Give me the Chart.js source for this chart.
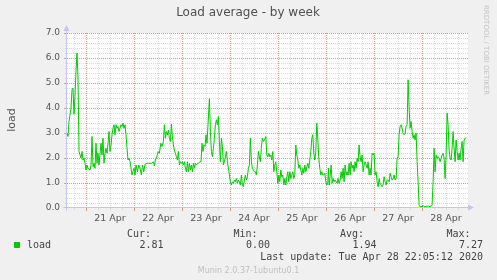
<!DOCTYPE html>
<html><head><meta charset="utf-8">
<script src="https://cdn.jsdelivr.net/npm/chart.js@4/dist/chart.umd.min.js"></script>
<style>
html,body{margin:0;padding:0;background:#f0f0f0;}
canvas{display:block;}
</style></head><body>
<canvas id="c" width="497" height="280"></canvas>
<script>
// hours relative to 21 Apr 00:00
const hours = [
-9.5,-9,-8.5,-7.5,-7,-6.5,-6,-5.5,-5,-4.5,-4,-3.5,-2.5,-2,-1.5,-1,-0.5,0,0.5,1,2,2.5,3,3.5,4,4.5,5,5.5,6,6.5,7.5,8,8.5,9,9.5,10,10.5,11,11.5,12,12.5,13,13.5,14,14.5,15,15.5,16,16.5,17,17.5,18,18.5,19,19.5,20,20.5,21,21.5,22,22.5,23,23.5,24,
24.5,25,25.7,26.4,27,27.7,28.2,28.9,29.5,30.4,31.2,32,32.9,33.7,34.2,34.7,35.4,36,36.7,37.4,38,38.7,39.2,39.7,40.2,40.7,41.2,41.7,42.2,42.7,43.2,43.7,44.2,44.7,45.2,45.7,46.2,46.7,47.2,47.7,48.2,48.7,49.2,49.7,50.2,50.7,51.2,51.7,52.2,52.7,53.2,53.7,54.2,54.7,55.2,55.7,56.2,56.9,
57.5,58,58.5,59,59.5,60,60.5,61,61.7,62.2,62.7,63.2,63.7,64.2,64.7,65.2,65.7,66.2,66.7,67.2,67.7,68.2,68.7,69.2,69.7,70.2,70.7,71.2,71.7,72.2,72.7,73.2,73.7,74.2,74.7,75.2,75.7,76.2,76.7,77.2,77.7,78.2,78.7,79.2,79.7,80.2,80.7,81.2,81.7,82.2,82.7,83.2,83.7,84.2,84.7,85.2,85.7,86.2,86.7,87.2,87.7,88.2,88.7,89.2,89.9,
90.4,90.9,91.4,91.9,92.4,92.9,93.4,93.9,94.4,94.9,95.4,95.9,96.4,96.9,97.4,97.9,98.4,98.9,99.4,99.9,100.4,100.9,101.4,101.9,102.4,102.9,103.4,103.9,104.4,104.9,105.4,105.9,106.4,106.9,107.4,107.9,108.4,108.9,109.4,109.9,110.4,110.9,111.4,111.9,112.4,112.9,113.4,113.9,114.4,114.9,115.4,115.9,116.4,116.9,117.4,117.9,118.4,118.9,119.4,119.9,120.4,120.9,121.2,121.6,122.1,122.6,
123.05,123.55,124.05,124.55,125.05,125.55,126.05,126.55,127.05,127.55,128.05,128.55,129.05,129.55,130.05,130.55,131.05,131.55,132.05,132.55,133.05,133.55,134.05,134.55,135.05,135.55,136.05,136.55,137.05,137.55,138.05,138.55,139.05,139.55,140.05,140.55,141.05,141.55,142.05,142.55,143.05,143.55,144.05,144.55,145.05,145.55,146.05,146.55,147.05,147.55,148.05,148.55,149.05,149.55,150.05,150.55,151.05,151.55,152.05,152.55,153.05,153.55,154.05,154.55,155.05,155.55,
156.05,156.55,157.05,157.55,158.05,158.55,159.05,159.55,160.05,160.55,161.05,161.55,162.05,162.55,163.05,163.55,164.05,164.55,165.05,165.55,166.05,166.55,167.05,167.55,168.05,168.55,169.05,169.55,170.05,170.55,171.05,171.55,172.05,172.55,173.05,173.55,174.05,174.55,175.05,175.55,176.05,176.55,177.05,177.55,178.05,178.55,179.05,179.55,180.05,180.55,181.05,181.55,182.05,182.55,183.05,183.55,184.05,184.55,185.05,185.55,186.05,186.55,187.05,187.55,188.05,188.55,189.05,189.55,189.9
];
const load = [
3.0,2.86,3.46,4.0,4.73,4.8,3.75,4.5,5.47,6.2,5.2,2.26,2.0,2.26,1.92,2.0,1.79,1.52,1.72,1.59,1.52,1.72,2.86,1.65,1.79,1.59,2.59,1.79,2.19,1.72,2.59,2.12,2.79,1.79,2.19,2.39,2.19,2.59,3.06,2.26,2.52,2.93,3.19,3.33,2.93,3.33,3.19,3.26,3.06,3.19,3.33,3.26,3.39,3.19,3.33,2.93,2.39,1.92,1.99,1.86,1.59,1.32,1.46,1.59,
1.32,1.72,1.45,1.72,1.59,1.32,1.72,1.45,1.75,1.79,1.79,1.79,1.79,1.85,1.69,1.92,2.05,2.26,2.19,2.59,2.46,2.66,3.33,2.79,3.06,2.92,3.12,2.79,2.66,3.35,2.86,2.52,2.32,2.19,2.05,1.92,2.26,1.72,1.85,1.79,1.85,1.72,1.85,1.59,1.45,1.85,1.45,1.79,1.52,1.72,1.45,1.79,1.59,1.79,1.72,1.79,1.79,1.85,
1.85,2.59,2.26,2.52,2.46,2.93,2.59,3.33,4.37,3.06,2.26,2.05,2.39,2.79,3.33,3.53,3.33,3.66,2.66,1.85,2.79,2.46,1.72,1.85,2.05,2.26,1.85,1.59,1.32,1.05,0.92,1.05,0.99,1.12,1.05,1.18,0.99,1.12,1.05,0.92,1.32,0.92,0.85,1.12,1.32,1.12,1.25,1.59,1.72,2.79,1.85,1.59,1.52,1.45,1.45,1.32,1.72,2.26,2.05,1.85,2.46,2.79,2.66,2.72,2.86,
2.12,2.05,2.19,2.05,2.12,1.92,2.26,1.45,1.72,1.85,1.45,0.99,1.32,1.05,1.52,1.25,1.32,0.92,1.18,0.92,1.25,1.45,1.05,1.45,1.18,1.32,1.45,1.18,1.32,2.52,2.12,1.92,1.59,1.72,1.52,1.32,1.59,1.39,1.72,1.45,1.65,1.79,1.59,1.92,2.26,2.79,2.93,2.19,1.92,2.26,3.39,2.79,1.99,1.59,1.32,1.45,1.32,1.32,1.39,1.05,0.92,0.99,1.6,0.92,1.32,1.72,
0.99,1.18,1.05,1.12,1.05,0.99,1.18,0.99,1.12,1.45,1.18,1.59,1.05,1.72,1.32,1.45,1.32,1.79,1.32,1.85,1.59,1.72,1.45,1.85,1.59,1.99,1.85,2.52,2.05,1.85,2.12,1.45,1.72,1.85,1.72,1.59,1.85,1.32,1.59,1.32,2.19,2.12,2.19,1.32,1.45,1.05,0.85,1.18,0.99,0.92,0.85,0.92,1.25,1.05,0.92,1.12,1.12,1.05,1.39,1.25,1.12,1.18,1.32,1.12,1.18,1.99,
2.05,2.93,3.26,3.33,3.19,2.99,2.93,2.99,3.26,3.33,5.13,4.0,3.19,3.46,3.06,2.79,2.93,2.72,2.99,1.85,1.05,0.11,0.05,0.08,0.04,0.1,0.06,0.04,0.08,0.05,0.09,0.05,0.07,0.06,0.12,1.05,2.39,1.45,2.12,1.99,2.05,1.99,1.85,1.99,2.12,2.19,1.99,1.18,2.12,3.79,3.33,2.32,1.99,1.92,2.39,3.06,2.39,1.85,2.72,2.26,1.92,2.19,1.92,2.39,2.66,1.85,2.72,2.79,2.81
];
const xTickHours = [12,36,60,84,108,132,156,180];
const xTickLabels = ['21 Apr','22 Apr','23 Apr','24 Apr','25 Apr','26 Apr','27 Apr','28 Apr'];
const yTickValues = [0,1,2,3,4,5,6,7];
const statNames = ['Cur:','Min:','Avg:','Max:'];
const statValues = ['2.81','0.00','1.94','7.27'];
const seriesName = 'load';
const titleText = 'Load average - by week';
const lastUpdate = 'Last update: Tue Apr 28 22:05:12 2020';
const footer = 'Munin 2.0.37-1ubuntu0.1';
const watermark = 'RRDTOOL / TOBI OETIKER';

const AXIS = '#c4c4f4', MAJ = '#e49494', MIN = '#dadada';

const bgPlugin = {
  id: 'bg',
  beforeDraw(chart) {
    const {ctx, chartArea: a} = chart;
    ctx.save();
    ctx.fillStyle = '#f0f0f0';
    ctx.fillRect(0, 0, chart.width, chart.height);
    ctx.fillStyle = '#ffffff';
    ctx.fillRect(a.left, a.top, a.right - a.left, a.bottom - a.top);
    ctx.restore();
  }
};

const gridPlugin = {
  id: 'rrdgrid',
  beforeDatasetsDraw(chart) {
    const {ctx, chartArea: a, scales: {x, y}} = chart;
    ctx.save();
    ctx.lineWidth = 1;
    // horizontal minor
    for (let k = 1; k < 35; k++) {
      if (k % 5 === 0) continue;
      const py = Math.round(y.getPixelForValue(k * 0.2)) + 0.5;
      ctx.strokeStyle = MIN;
      ctx.setLineDash([1, 1]);
      ctx.beginPath(); ctx.moveTo(a.left, py); ctx.lineTo(a.right, py); ctx.stroke();
      ctx.setLineDash([]);
      ctx.beginPath(); ctx.moveTo(a.left - 2, py); ctx.lineTo(a.left, py); ctx.stroke();
    }
    // vertical minor
    for (let h = -6; h <= 190; h += 6) {
      if (h % 24 === 0) continue;
      const px = Math.round(x.getPixelForValue(h)) + 0.5;
      ctx.strokeStyle = MIN;
      ctx.setLineDash([1, 1]);
      ctx.beginPath(); ctx.moveTo(px, a.top); ctx.lineTo(px, a.bottom); ctx.stroke();
      ctx.setLineDash([]);
      ctx.beginPath(); ctx.moveTo(px, a.bottom); ctx.lineTo(px, a.bottom + 2); ctx.stroke();
    }
    // horizontal major
    for (let v = 1; v <= 7; v++) {
      const py = Math.round(y.getPixelForValue(v)) + 0.5;
      ctx.strokeStyle = MAJ;
      ctx.setLineDash([1, 1]);
      ctx.beginPath(); ctx.moveTo(a.left, py); ctx.lineTo(a.right, py); ctx.stroke();
      ctx.setLineDash([]);
      ctx.beginPath(); ctx.moveTo(a.left - 3, py); ctx.lineTo(a.left, py); ctx.stroke();
    }
    // vertical major
    for (let h = 0; h <= 168; h += 24) {
      const px = Math.round(x.getPixelForValue(h)) + 0.5;
      ctx.strokeStyle = MAJ;
      ctx.setLineDash([1, 1]);
      ctx.beginPath(); ctx.moveTo(px, a.top); ctx.lineTo(px, a.bottom); ctx.stroke();
      ctx.setLineDash([]);
      ctx.beginPath(); ctx.moveTo(px, a.bottom); ctx.lineTo(px, a.bottom + 3); ctx.stroke();
    }
    // axes with arrows
    const x0 = Math.round(a.left) - 0.5, y0 = Math.round(y.getPixelForValue(0)) - 0.5;
    ctx.strokeStyle = AXIS; ctx.fillStyle = AXIS;
    ctx.beginPath(); ctx.moveTo(x0, y0 + 3); ctx.lineTo(x0, a.top - 5); ctx.stroke();
    ctx.beginPath(); ctx.moveTo(x0, a.top - 8); ctx.lineTo(x0 - 3, a.top - 2); ctx.lineTo(x0 + 3, a.top - 2); ctx.closePath(); ctx.fill();
    ctx.beginPath(); ctx.moveTo(x0 - 3, y0); ctx.lineTo(a.right + 2, y0); ctx.stroke();
    ctx.beginPath(); ctx.moveTo(a.right + 6, y0); ctx.lineTo(a.right, y0 - 3); ctx.lineTo(a.right, y0 + 3); ctx.closePath(); ctx.fill();
    ctx.restore();
  }
};

const textPlugin = {
  id: 'texts',
  afterDraw(chart) {
    const {ctx} = chart;
    ctx.save();
    ctx.textBaseline = 'alphabetic';
    // title
    ctx.fillStyle = '#505050';
    ctx.font = '12px "DejaVu Sans"';
    ctx.textAlign = 'center';
    ctx.fillText(titleText, 248, 16);
    // y axis title
    ctx.save();
    ctx.translate(15, 120);
    ctx.rotate(-Math.PI / 2);
    ctx.font = '11px "DejaVu Sans"';
    ctx.fillStyle = '#555';
    ctx.fillText(seriesName, 0, 0);
    ctx.restore();
    // watermark
    ctx.save();
    ctx.translate(484, 5);
    ctx.rotate(Math.PI / 2);
    ctx.textAlign = 'left';
    ctx.font = '7px "DejaVu Sans"';
    ctx.fillStyle = '#c4c4c4';
    ctx.fillText(watermark, 0, 0);
    ctx.restore();
    // legend
    ctx.font = '10px "DejaVu Sans Mono"';
    ctx.fillStyle = '#444';
    const statRight = [151, 257.5, 364, 470.5];
    const valRight = [163.5, 270, 376.5, 483];
    ctx.textAlign = 'right';
    statNames.forEach((s, i) => ctx.fillText(s, statRight[i], 236.5));
    statValues.forEach((s, i) => ctx.fillText(s, valRight[i], 248));
    ctx.fillText(lastUpdate, 483, 260);
    ctx.textAlign = 'left';
    ctx.fillText(seriesName, 27, 248);
    ctx.fillStyle = '#00cc00';
    ctx.fillRect(14, 242, 6, 6);
    // footer
    ctx.textAlign = 'center';
    ctx.font = '8px "DejaVu Sans"';
    ctx.fillStyle = '#c0c0c0';
    ctx.fillText(footer, 248.5, 272.5);
    ctx.restore();
  }
};

new Chart(document.getElementById('c'), {
  type: 'line',
  data: {
    datasets: [{
      label: seriesName,
      data: hours.map((h, i) => ({x: h, y: load[i]})),
      borderColor: '#00cc00',
      borderWidth: 1,
      pointRadius: 0,
      tension: 0,
      fill: false
    }]
  },
  options: {
    responsive: false,
    animation: false,
    devicePixelRatio: 1,
    layout: {padding: {left: 0, right: 29, top: 33, bottom: 0}},
    plugins: {legend: {display: false}, tooltip: {enabled: false}, title: {display: false}},
    scales: {
      x: {
        type: 'linear', min: -9.5, max: 191,
        grid: {display: false, drawTicks: false},
        border: {display: false},
        afterBuildTicks: s => { s.ticks = xTickHours.map(v => ({value: v})); },
        afterFit: s => { s.height = 72; },
        ticks: {
          autoSkip: false, maxRotation: 0, padding: 5,
          color: '#555', font: {family: '"DejaVu Sans"', size: 9.5},
          callback: v => xTickLabels[xTickHours.indexOf(v)]
        }
      },
      y: {
        min: 0, max: 7,
        grid: {display: false, drawTicks: false},
        border: {display: false},
        afterBuildTicks: s => { s.ticks = yTickValues.map(v => ({value: v})); },
        afterFit: s => { s.width = 67; },
        ticks: {
          padding: 7, color: '#555', font: {family: '"DejaVu Sans"', size: 9},
          callback: v => Number(v).toFixed(1)
        }
      }
    }
  },
  plugins: [bgPlugin, gridPlugin, textPlugin]
});
</script>
</body></html>
